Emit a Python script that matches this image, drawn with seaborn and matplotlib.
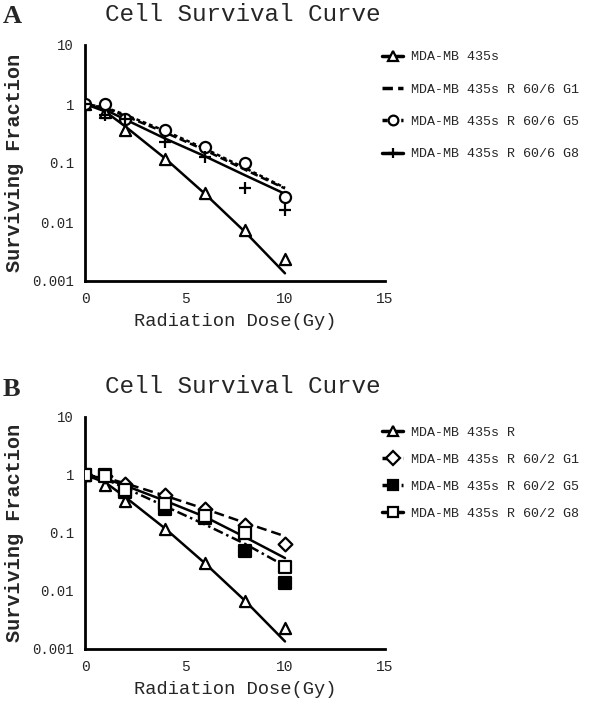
import numpy as np
import pandas as pd
import matplotlib
matplotlib.use("Agg")
import matplotlib.pyplot as plt
from matplotlib.lines import Line2D
import seaborn as sns

# measured doses (Gy) and fitted-curve doses
doses = [0, 1, 2, 4, 6, 8, 10]
fit_doses = [0, 1, 2, 4, 6, 8, 10]

# Panel A
a_labels = ["MDA-MB 435s", "MDA-MB 435s R 60/6 G1", "MDA-MB 435s R 60/6 G5", "MDA-MB 435s R 60/6 G8"]
a_points = {
    "MDA-MB 435s": [1, 0.72, 0.36, 0.115, 0.031, 0.0073, 0.0024],
    "MDA-MB 435s R 60/6 G5": [1, 1.0, 0.56, 0.36, 0.19, 0.10, 0.027],
    "MDA-MB 435s R 60/6 G8": [1, 0.65, 0.55, 0.23, 0.125, 0.038, 0.016],
}
a_fits = {
    "MDA-MB 435s": [1, 0.75, 0.42, 0.12, 0.03, 0.0068, 0.00135],
    "MDA-MB 435s R 60/6 G1": [1, 0.86, 0.63, 0.33, 0.165, 0.077, 0.037],
    "MDA-MB 435s R 60/6 G5": [1, 0.88, 0.66, 0.35, 0.175, 0.082, 0.038],
    "MDA-MB 435s R 60/6 G8": [1, 0.80, 0.55, 0.26, 0.13, 0.062, 0.030],
}

# Panel B
b_labels = ["MDA-MB 435s R", "MDA-MB 435s R 60/2 G1", "MDA-MB 435s R 60/2 G5", "MDA-MB 435s R 60/2 G8"]
b_points = {
    "MDA-MB 435s R": [1, 0.68, 0.35, 0.115, 0.030, 0.0068, 0.0023],
    "MDA-MB 435s R 60/2 G1": [1, 0.95, 0.70, 0.45, 0.26, 0.14, 0.065],
    "MDA-MB 435s R 60/2 G5": [1, 1.0, 0.50, 0.26, 0.18, 0.048, 0.014],
    "MDA-MB 435s R 60/2 G8": [1, 0.95, 0.55, 0.32, 0.20, 0.10, 0.026],
}
b_fits = {
    "MDA-MB 435s R": [1, 0.75, 0.42, 0.12, 0.03, 0.0068, 0.00135],
    "MDA-MB 435s R 60/2 G1": [1, 0.90, 0.72, 0.44, 0.26, 0.15, 0.088],
    "MDA-MB 435s R 60/2 G5": [1, 0.85, 0.60, 0.29, 0.14, 0.065, 0.027],
    "MDA-MB 435s R 60/2 G8": [1, 0.87, 0.66, 0.36, 0.19, 0.085, 0.037],
}

y_ticks = [0.001, 0.01, 0.1, 1, 10]
y_ticklabels = ["0.001", "0.01", "0.1", "1", "10"]
x_ticks = [0, 5, 10, 15]

MONO = "Liberation Mono"

a_styles = {
    "MDA-MB 435s": dict(marker="^", dash=(), mfc="white"),
    "MDA-MB 435s R 60/6 G1": dict(marker=None, dash=(3, 1.5), mfc="white"),
    "MDA-MB 435s R 60/6 G5": dict(marker="o", dash=(1.5, 1.2), mfc="white"),
    "MDA-MB 435s R 60/6 G8": dict(marker="+", dash=(), mfc="black"),
}
b_styles = {
    "MDA-MB 435s R": dict(marker="^", dash=(), mfc="white"),
    "MDA-MB 435s R 60/2 G1": dict(marker="D", dash=(4, 2), mfc="white"),
    "MDA-MB 435s R 60/2 G5": dict(marker="s", dash=(4, 1.5, 1, 1.5), mfc="black"),
    "MDA-MB 435s R 60/2 G8": dict(marker="s", dash=(), mfc="white"),
}


def draw_panel(ax, labels, points, fits, styles, letter, legend_y, legend_spacing):
    fit_df = pd.concat([
        pd.DataFrame({"dose": fit_doses, "sf": fits[k], "group": k}) for k in labels
    ])
    sns.lineplot(data=fit_df, x="dose", y="sf", hue="group", style="group",
                 palette={k: "black" for k in labels},
                 dashes={k: styles[k]["dash"] for k in labels},
                 linewidth=1.8, legend=False, ax=ax)
    for k in labels:
        if k not in points:
            continue
        st = styles[k]
        pt_df = pd.DataFrame({"dose": doses, "sf": points[k]})
        ms = 8 if st["marker"] != "D" else 7
        sns.scatterplot(data=pt_df, x="dose", y="sf", marker=st["marker"],
                        s=ms ** 2, facecolor=st["mfc"] if st["marker"] != "+" else "black",
                        edgecolor="black", linewidth=1.6, color="black",
                        legend=False, ax=ax, zorder=3)
    ax.set_yscale("log")
    ax.set_ylim(0.001, 10)
    ax.set_xlim(0, 15)
    ax.set_xticks(x_ticks)
    ax.set_xticklabels([str(t) for t in x_ticks], fontfamily=MONO, fontsize=10.5)
    ax.set_yticks(y_ticks)
    ax.set_yticklabels(y_ticklabels, fontfamily=MONO, fontsize=10)
    ax.yaxis.set_minor_locator(matplotlib.ticker.NullLocator())
    ax.tick_params(direction="out", length=5, width=1.8, color="black", pad=3)
    for s in ["top", "right"]:
        ax.spines[s].set_visible(False)
    for s in ["left", "bottom"]:
        ax.spines[s].set_linewidth(2)
        ax.spines[s].set_color("black")
    ax.set_xlabel("Radiation Dose(Gy)", fontfamily=MONO, fontsize=13.5, labelpad=5)
    ax.set_ylabel("Surviving Fraction", fontfamily=MONO, fontsize=14.5,
                  fontweight="bold", labelpad=6)
    ax.set_title("Cell Survival Curve", fontfamily=MONO, fontsize=17.5, loc="left",
                 x=0.067, pad=17)
    ax.text(-0.273, 1.17, letter, transform=ax.transAxes, fontsize=19,
            fontweight="bold", fontfamily="Liberation Serif", va="top")

    handles = []
    for k in labels:
        st = styles[k]
        handles.append(Line2D([0], [0], color="black", lw=2.5,
                              linestyle=(0, st["dash"]) if st["dash"] else "-",
                              marker=st["marker"], markersize=7,
                              markerfacecolor=st["mfc"], markeredgecolor="black",
                              markeredgewidth=1.6))
    ax.legend(handles, labels, loc="upper left", bbox_to_anchor=(0.99, legend_y),
              frameon=False, handlelength=1.6, handletextpad=0.6,
              borderaxespad=0, borderpad=0, labelspacing=legend_spacing,
              prop={"family": MONO, "size": 9.6})


sns.set_theme(style="white")
plt.rcParams["font.family"] = [MONO, "DejaVu Sans"]

fig = plt.figure(figsize=(6.0, 7.08), dpi=100)
ax_a = fig.add_axes([85 / 600, 1 - 281 / 708, 300 / 600, 236 / 708])
ax_b = fig.add_axes([85 / 600, 1 - 649 / 708, 300 / 600, 232 / 708])

draw_panel(ax_a, a_labels, a_points, a_fits, a_styles, "A", 0.975, 1.5)
draw_panel(ax_b, b_labels, b_points, b_fits, b_styles, "B", 0.96, 1.1)

fig.savefig("out.png", dpi=100, facecolor="white")
